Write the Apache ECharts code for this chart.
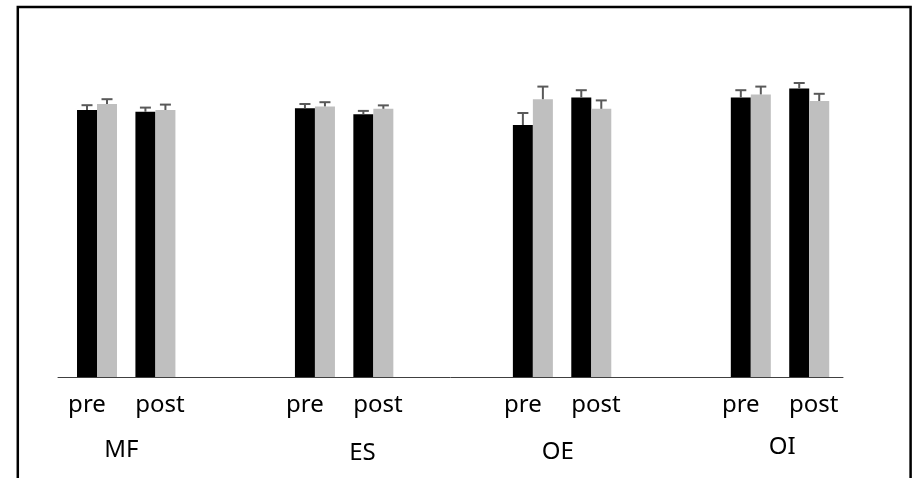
<!DOCTYPE html>
<html>
<head>
<meta charset="utf-8">
<script src="https://cdn.jsdelivr.net/npm/echarts@6.0.0/dist/echarts.min.js"></script>
<style>
html, body { margin: 0; padding: 0; background: #fff; }
#chart { width: 912px; height: 478px; }
</style>
</head>
<body>
<div id="chart"></div>
<script>
var groups = ['MF', 'ES', 'OE', 'OI'];
var phases = ['pre', 'post'];
// order: MF pre, MF post, ES pre, ES post, OE pre, OE post, OI pre, OI post
var blackValues = [4.45, 4.42, 4.48, 4.38, 4.20, 4.66, 4.66, 4.81];
var blackErrors = [0.08, 0.07, 0.07, 0.055, 0.20, 0.12, 0.12, 0.09];
var greyValues = [4.55, 4.45, 4.51, 4.47, 4.63, 4.47, 4.71, 4.60];
var greyErrors = [0.08, 0.09, 0.07, 0.057, 0.21, 0.14, 0.13, 0.12];

/* layout */
var pairOffset = [-0.134, 0.134];      // pre / post pair centre, in group units
var phaseLabelOffset = [-0.18, 0.155];  // where "pre" / "post" text sits
var groupLabelShift = [-0.022, 0.084, -0.02, 0.01];
var barWidth = 20;

var blackData = [], greyData = [], phaseTicks = [], groupTicks = [];
groups.forEach(function (g, gi) {
	phases.forEach(function (p, pi) {
		var i = gi * 2 + pi;
		var x = gi + pairOffset[pi];
		blackData.push([x, blackValues[i], blackErrors[i]]);
		greyData.push([x, greyValues[i], greyErrors[i]]);
		phaseTicks.push(gi + phaseLabelOffset[pi]);
	});
	groupTicks.push(gi + groupLabelShift[gi]);
});

// index of the tick closest to v
function nearest(list, v) {
	var best = 0;
	list.forEach(function (t, i) {
		if (Math.abs(t - v) < Math.abs(list[best] - v)) best = i;
	});
	return best;
}

/* bar plus upper error bar */
function renderBar(side, color) {
	return function (params, api) {
		var x = api.value(0), y = api.value(1), err = api.value(2);
		var base = api.coord([x, 0]);
		var top = api.coord([x, y]);
		var cap = api.coord([x, y + err]);
		var left = side < 0 ? base[0] - barWidth : base[0];
		var cx = left + barWidth / 2;
		return {
			type: 'group',
			children: [
				{ type: 'rect', shape: { x: left, y: top[1], width: barWidth, height: base[1] - top[1] }, style: { fill: color } },
				{ type: 'line', shape: { x1: cx, y1: top[1], x2: cx, y2: cap[1] }, style: { stroke: '#595959', lineWidth: 2 } },
				{ type: 'line', shape: { x1: cx - 5.5, y1: cap[1], x2: cx + 5.5, y2: cap[1] }, style: { stroke: '#595959', lineWidth: 2 } }
			]
		};
	};
}

var chart = echarts.init(document.getElementById('chart'));
chart.setOption({
	animation: false,
	grid: { left: 58, right: 69, top: 77, bottom: 101 },
	graphic: [{
		type: 'rect',
		shape: { x: 17.8, y: 7, width: 892.8, height: 520 },
		style: { fill: 'none', stroke: '#000', lineWidth: 2.5 },
		silent: true
	}],
	xAxis: [{
		type: 'value',
		min: -0.313,
		max: 3.289,
		splitLine: { show: false },
		axisLine: { show: true, onZero: false, lineStyle: { color: '#404040', width: 1 } },
		axisTick: { show: false },
		axisLabel: {
			customValues: phaseTicks,
			formatter: function (v) { return phases[nearest(phaseTicks, v) % 2]; },
			margin: 16,
			fontFamily: 'Noto Sans',
			fontSize: 24,
			color: '#000'
		}
	}, {
		type: 'value',
		min: -0.313,
		max: 3.289,
		position: 'bottom',
		splitLine: { show: false },
		axisLine: { show: false },
		axisTick: { show: false },
		axisLabel: {
			customValues: groupTicks,
			formatter: function (v) {
				var i = nearest(groupTicks, v);
				return '{g' + i + '|' + groups[i] + '}';
			},
			margin: 58,
			fontFamily: 'Noto Sans',
			fontSize: 24,
			color: '#000',
			rich: {
				g0: { fontFamily: 'Noto Sans', fontSize: 24, color: '#000', padding: [3, 0, 0, 0] },
				g1: { fontFamily: 'Noto Sans', fontSize: 24, color: '#000', padding: [6, 0, 0, 0] },
				g2: { fontFamily: 'Noto Sans', fontSize: 24, color: '#000', padding: [5, 0, 0, 0] },
				g3: { fontFamily: 'Noto Sans', fontSize: 24, color: '#000', padding: [0, 0, 0, 0] }
			}
		}
	}],
	yAxis: { type: 'value', min: 0, max: 5, show: false },
	series: [{
		name: 'black',
		type: 'custom',
		clip: false,
		renderItem: renderBar(-1, '#000000'),
		encode: { x: 0, y: 1 },
		data: blackData
	}, {
		name: 'grey',
		type: 'custom',
		clip: false,
		renderItem: renderBar(1, '#bfbfbf'),
		encode: { x: 0, y: 1 },
		data: greyData
	}]
});
</script>
</body>
</html>
